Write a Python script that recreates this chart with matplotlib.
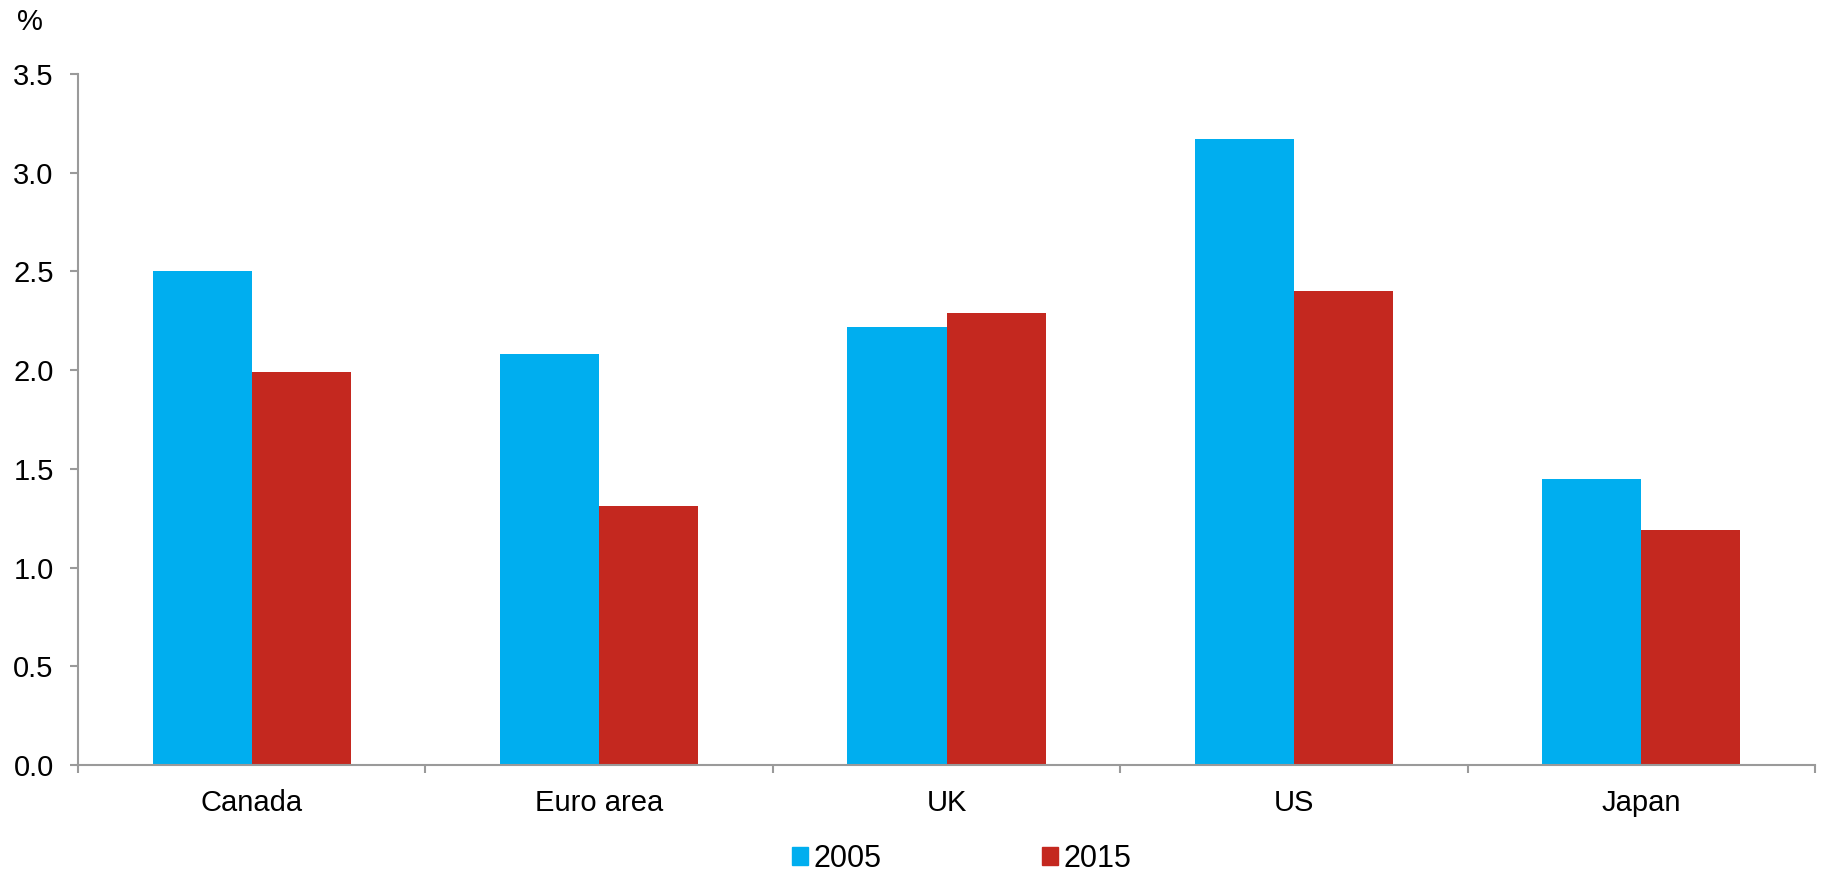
import numpy as np
import matplotlib
matplotlib.use("Agg")
import matplotlib.pyplot as plt
from matplotlib.patches import Patch

# Values per region (%)
regions = ["Canada", "Euro area", "UK", "US", "Japan"]
years = ["2005", "2015"]
vals_2005 = [2.50, 2.08, 2.22, 3.17, 1.45]
vals_2015 = [1.99, 1.31, 2.29, 2.40, 1.19]

blue = "#00AEEF"
red = "#C4281F"
axis_grey = "#9A9A9A"

plt.rcParams["font.family"] = ["Liberation Sans", "DejaVu Sans"]
plt.rcParams["font.size"] = 21

fig = plt.figure(figsize=(18.23, 8.73), dpi=100)
ax = fig.add_axes([78 / 1823, 108 / 873, 1737 / 1823, 691 / 873])

x = np.arange(len(regions))
w = 0.285
ax.bar(x - w / 2, vals_2005, width=w, color=blue, label=years[0])
ax.bar(x + w / 2, vals_2015, width=w, color=red, label=years[1])

ax.set_xlim(-0.5, len(regions) - 0.5)
ax.set_ylim(0, 3.5)
ax.set_yticks(np.arange(0, 3.51, 0.5))
ax.set_yticklabels([f"{v:.1f}" for v in np.arange(0, 3.51, 0.5)])

# category labels in the middle, tick marks on the boundaries
ax.set_xticks(x)
ax.set_xticklabels(regions)
ax.set_xticks(np.arange(-0.5, len(regions)), minor=True)
ax.tick_params(axis="x", which="major", length=0, pad=17)
ax.tick_params(axis="x", which="minor", length=6, width=1.5, color=axis_grey, direction="out")
ax.tick_params(axis="y", length=6, width=1.5, color=axis_grey, direction="out", pad=11.5)

for side in ["top", "right"]:
    ax.spines[side].set_visible(False)
for side in ["left", "bottom"]:
    ax.spines[side].set_color(axis_grey)
    ax.spines[side].set_linewidth(1.5)

fig.text(30 / 1823, 1 - 22 / 873, "%", ha="center", va="center", fontsize=21)

# legend centred under the plot
handles = [Patch(color=blue, label=years[0]), Patch(color=red, label=years[1])]
fig.legend(handles=handles, loc="center", bbox_to_anchor=(962 / 1823, 14 / 873),
           ncol=2, frameon=False, handlelength=0.5, handleheight=0.5,
           handletextpad=0.2, columnspacing=5.25, fontsize=22, borderpad=0)

fig.savefig("out.png", dpi=100)
